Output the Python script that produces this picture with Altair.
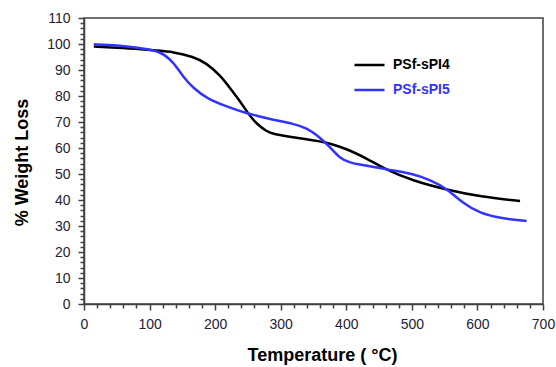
import altair as alt
import pandas as pd

series_names = ["PSf-sPI4", "PSf-sPI5"]
series_colors = ["#000000", "#3333ff"]

temp_a = [15, 50, 85, 109, 136, 167, 187, 207, 223, 238, 251, 263, 279, 289, 310, 340, 367, 390, 406, 431, 458, 502, 556, 604, 665]
loss_a = [99.0, 98.6, 98.1, 97.5, 97.0, 95.1, 92.6, 88.1, 83.0, 78.0, 73.0, 69.3, 66.3, 65.4, 64.5, 63.3, 62.4, 60.5, 59.0, 56.0, 52.0, 47.3, 43.8, 41.3, 39.6]

temp_b = [15, 50, 85, 116, 136, 151, 167, 187, 218, 248, 268, 289, 320, 340, 355, 375, 390, 406, 416, 441, 460, 502, 528, 553, 578, 604, 634, 675]
loss_b = [99.9, 99.6, 98.5, 97.3, 93.2, 87.4, 83.0, 79.1, 75.9, 73.3, 72.2, 70.8, 69.3, 67.6, 65.0, 60.5, 56.0, 54.4, 53.8, 52.8, 51.8, 50.1, 47.7, 44.5, 38.7, 34.9, 33.0, 31.9]

x_ticks = list(range(0, 701, 20))
y_ticks = list(range(0, 111, 2))

df = pd.concat([
    pd.DataFrame({"T": temp_a, "W": loss_a, "s": series_names[0], "o": range(len(temp_a))}),
    pd.DataFrame({"T": temp_b, "W": loss_b, "s": series_names[1], "o": range(len(temp_b))}),
])

FONT = "Liberation Sans"
AXC = "#404040"
LABC = "#22223a"

common_axis = dict(
    grid=False, domainColor=AXC, domainWidth=1.5, tickColor=AXC, tickWidth=1.5,
    labelFont=FONT, labelFontSize=14, labelColor=LABC, labelOverlap=False, labelFlush=False,
    titleFont=FONT, titleFontSize=18, titleFontWeight="bold", titleColor="#000000",
)

x_axis = alt.Axis(
    values=x_ticks,
    labelExpr="datum.value % 100 === 0 ? datum.label : ''",
    tickSize={"condition": {"test": "datum.value % 100 === 0", "value": 6}, "value": 4},
    labelPadding=7,
    title="Temperature ( °C)",
    titleX=238, titleY=56, titleBaseline="alphabetic", titleAlign="center",
    **common_axis,
)

y_axis = alt.Axis(
    values=y_ticks,
    labelExpr="datum.value % 10 === 0 ? datum.label : ''",
    tickSize={"condition": {"test": "datum.value % 10 === 0", "value": 6}, "value": 4},
    labelPadding=8,
    title="% Weight Loss",
    titleX=-62, titleY=144, titleBaseline="middle", titleAlign="center", titleAngle=-90,
    **common_axis,
)

chart = alt.Chart(df).mark_line(interpolate="basis", strokeWidth=2.5).encode(
    x=alt.X("T:Q", scale=alt.Scale(domain=[0, 700], nice=False, zero=False), axis=x_axis),
    y=alt.Y("W:Q", scale=alt.Scale(domain=[0, 110], nice=False), axis=y_axis),
    color=alt.Color(
        "s:N",
        scale=alt.Scale(domain=series_names, range=series_colors),
        legend=alt.Legend(
            title=None, orient="none", legendX=269, legendY=38, padding=0,
            symbolType="stroke", symbolSize=900, symbolStrokeWidth=2.5,
            clipHeight=18, rowPadding=7, labelOffset=7,
            labelFont=FONT, labelFontSize=14, labelFontWeight="bold",
            labelColor={"expr": "datum.label === 'PSf-sPI5' ? '#3333ff' : '#000000'"},
        ),
    ),
    order="o:Q",
).properties(
    width=459, height=286,
    autosize=alt.AutoSizeParams(type="none"),
    padding={"left": 84, "top": 18, "right": 13, "bottom": 63},
).configure_view(stroke=AXC, strokeWidth=1.5)

chart.save("out.html", embed_options={"renderer": "svg", "actions": False})
